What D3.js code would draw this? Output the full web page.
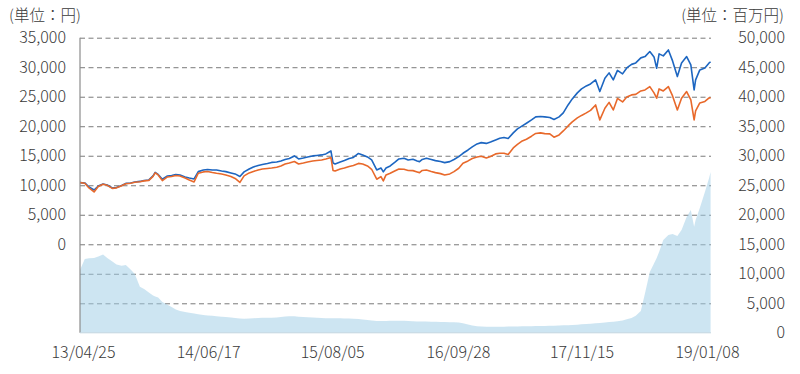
<!DOCTYPE html>
<html><head><meta charset="utf-8">
<script src="https://cdn.jsdelivr.net/npm/d3@7"></script>
<style>body{margin:0;background:#fff} text{font-family:"Noto Sans CJK JP","Noto Sans",sans-serif}</style>
</head><body><svg id="c" width="800" height="374"></svg>
<script>
const dates = [
"2013-04-15","2013-05-01","2013-05-15","2013-06-01","2013-06-15","2013-07-01","2013-07-15","2013-08-01","2013-08-15","2013-09-01",
"2013-09-15","2013-10-01","2013-10-15","2013-11-01","2013-11-15","2013-12-01","2013-12-15","2013-12-22","2014-01-01","2014-01-15",
"2014-02-01","2014-02-15","2014-03-01","2014-03-15","2014-04-01","2014-04-15","2014-05-01","2014-05-15","2014-06-01","2014-06-15",
"2014-07-01","2014-07-15","2014-08-01","2014-08-15","2014-09-01","2014-09-15","2014-10-01","2014-10-15","2014-11-01","2014-11-15",
"2014-12-01","2014-12-15","2015-01-01","2015-01-15","2015-02-01","2015-02-15","2015-03-01","2015-03-15","2015-04-01","2015-04-15",
"2015-05-01","2015-05-15","2015-06-01","2015-06-15","2015-07-01","2015-07-15","2015-08-01","2015-08-08","2015-08-15","2015-09-01",
"2015-09-15","2015-10-01","2015-10-15","2015-11-01","2015-11-15","2015-12-01","2015-12-15","2016-01-01","2016-01-15","2016-01-23",
"2016-02-01","2016-02-15","2016-03-01","2016-03-15","2016-04-01","2016-04-15","2016-05-01","2016-05-15","2016-05-23","2016-06-01",
"2016-06-15","2016-07-01","2016-07-15","2016-08-01","2016-08-15","2016-09-01","2016-09-15","2016-10-01","2016-10-15","2016-11-01",
"2016-11-15","2016-12-01","2016-12-15","2017-01-01","2017-01-15","2017-02-01","2017-02-15","2017-03-01","2017-03-15","2017-04-01",
"2017-04-15","2017-05-01","2017-05-15","2017-06-01","2017-06-15","2017-07-01","2017-07-15","2017-08-01","2017-08-15","2017-09-01",
"2017-09-15","2017-10-01","2017-10-15","2017-11-01","2017-11-15","2017-12-01","2017-12-15","2018-01-01","2018-01-15","2018-02-01",
"2018-02-15","2018-03-01","2018-03-15","2018-04-01","2018-04-15","2018-05-01","2018-05-15","2018-06-01","2018-06-15","2018-07-01",
"2018-07-15","2018-07-24","2018-08-01","2018-08-15","2018-09-01","2018-09-15","2018-10-01","2018-10-15","2018-11-01","2018-11-15",
"2018-11-26","2018-12-01","2018-12-15","2019-01-01","2019-01-15","2019-01-20"];

// 基準価額（分配金再投資） 円 – blue
const navReinvested = [
10440,10390,9710,9200,9880,10220,10050,9540,9630,9970,
10310,10390,10560,10650,10810,10900,11580,12170,11830,11020,
11580,11660,11830,11750,11410,11240,11070,12310,12590,12680,
12590,12590,12420,12310,12090,11920,11490,12260,12760,13100,
13360,13530,13700,13870,13950,14120,14370,14540,14970,14460,
14630,14800,14970,15050,15140,15310,15810,13780,13610,13950,
14200,14540,14710,15390,15140,14800,14290,12590,12930,12260,
12930,13270,13870,14460,14580,14290,14410,14120,14000,14370,
14580,14370,14170,14030,13830,14000,14370,14850,15420,15980,
16490,17000,17220,17090,17340,17680,17970,18100,17930,18870,
19540,20050,20510,21070,21580,21660,21580,21490,21150,21580,
22260,23610,24630,25650,26320,26830,27170,27850,25870,28140,
29040,27850,29460,28870,29880,30480,30730,31580,31800,32650,
31750,29830,32260,31920,32930,31070,28410,30730,31800,30390,
26150,27850,29540,29880,30730,30900];

// 基準価額 円 – orange
const nav = [
10440,10340,9540,8870,9800,10180,9990,9460,9560,9900,
10250,10330,10500,10580,10740,10830,11500,12100,11750,10780,
11410,11490,11660,11580,11240,10900,10560,12040,12260,12340,
12170,12040,11920,11750,11490,11150,10480,11580,12090,12340,
12590,12760,12850,12930,13050,13270,13610,13780,14030,13610,
13780,13950,14120,14200,14290,14460,14710,12510,12420,12760,
12930,13190,13360,13700,13610,13270,12710,11020,11460,10730,
11750,12040,12420,12760,12710,12510,12480,12260,12140,12510,
12590,12340,12140,11970,11750,11920,12310,12880,13730,14120,
14540,14800,14920,14630,14880,15310,15420,15420,15220,16320,
16920,17510,17800,18310,18780,18870,18750,18700,18140,18530,
19200,20050,20730,21410,21830,22260,22680,23610,21070,23050,
24040,22760,24710,24120,24970,25310,25390,25980,26150,26710,
25650,24750,26320,25980,26710,25140,22760,24750,25870,24460,
21070,22590,23950,24200,24800,24800];

// 純資産総額 百万円 – area
const netAssets = [
10640,12510,12630,12680,12930,13270,12680,12090,11580,11370,
11490,10730,9970,7810,7420,6830,6320,6150,5980,5220,
4760,4370,3950,3700,3530,3410,3270,3140,3020,2950,
2880,2800,2730,2660,2590,2500,2420,2400,2420,2460,
2510,2530,2560,2570,2590,2680,2760,2790,2800,2740,
2680,2640,2590,2550,2510,2480,2460,2460,2460,2460,
2440,2420,2380,2340,2260,2170,2080,2000,2000,2000,
2000,2030,2050,2040,2030,1990,1950,1930,1920,1920,
1900,1880,1860,1830,1820,1800,1780,1750,1600,1410,
1250,1100,1050,1030,1030,1030,1030,1030,1050,1070,
1080,1100,1110,1120,1140,1150,1170,1190,1210,1240,
1260,1290,1330,1370,1430,1490,1550,1610,1680,1750,
1810,1880,1960,2080,2280,2510,2900,3700,6700,10310,
11750,12680,13700,15730,16580,16750,16410,17420,19630,20810,
17980,19120,21150,23870,26240,27260];

const leftTicks = [0,5000,10000,15000,20000,25000,30000,35000];
const rightTicks = [0,5000,10000,15000,20000,25000,30000,35000,40000,45000,50000];
const dateTicks = ["2013-04-25","2014-06-17","2015-08-05","2016-09-28","2017-11-15","2019-01-08"];

const parse = d3.timeParse("%Y-%m-%d");
const fmtTick = d3.timeFormat("%y/%m/%d");
const fmtNum = d3.format(",");
const data = dates.map((d,i)=>({date:parse(d), b:navReinvested[i], o:nav[i], a:netAssets[i]}));

const svg = d3.select("#c");
const plotL = 80, plotR = 711, plotT = 37.7, plotB = 332.8;
const x = d3.scaleTime().domain([parse("2013-04-25"), parse("2019-01-08")]).range([83, 707]);
const yR = d3.scaleLinear().domain([0, 50000]).range([plotB, plotT]);
const yL = d3.scaleLinear().domain([-15000, 35000]).range([plotB, plotT]);

// gridlines
const grid = svg.append("g").attr("transform", `translate(${plotL},0)`)
  .call(d3.axisLeft(yR).tickValues(rightTicks.filter(v=>v>0)).tickSize(-(plotR-plotL)).tickFormat(""));
grid.select(".domain").remove();
grid.selectAll(".tick line").attr("stroke","#7a7a7a").attr("stroke-width",1).attr("stroke-dasharray","5,3.5");

// area
svg.append("path").datum(data)
  .attr("d", d3.area().x(d=>x(d.date)).y0(yR(0)).y1(d=>yR(d.a)))
  .attr("fill","#9fcde6").attr("fill-opacity",0.52);

// lines
svg.append("path").datum(data)
  .attr("d", d3.line().x(d=>x(d.date)).y(d=>yL(d.b)))
  .attr("fill","none").attr("stroke","#1d66c1").attr("stroke-width",1.6).attr("stroke-linejoin","round");
svg.append("path").datum(data)
  .attr("d", d3.line().x(d=>x(d.date)).y(d=>yL(d.o)))
  .attr("fill","none").attr("stroke","#e8692b").attr("stroke-width",1.6).attr("stroke-linejoin","round");

// axis lines
svg.append("line").attr("x1",plotL).attr("x2",plotL).attr("y1",plotT).attr("y2",plotB).attr("stroke","#8c8c8c").attr("stroke-width",1.2);
svg.append("line").attr("x1",plotL).attr("x2",plotR).attr("y1",plotB).attr("y2",plotB).attr("stroke","#c3d6e0").attr("stroke-width",1);

const txtStyle = sel => sel.attr("font-size",16).attr("fill","#3a3a3a").attr("font-weight",300)
  .attr("font-family","'Noto Sans CJK JP',sans-serif");

// left axis labels
const la = svg.append("g").attr("transform","translate(66,0)")
  .call(d3.axisLeft(yL).tickValues(leftTicks).tickSize(0).tickPadding(0).tickFormat(fmtNum));
la.select(".domain").remove();
la.selectAll("text").call(txtStyle);

// right axis labels
const ra = svg.append("g").attr("transform","translate(785,0)")
  .call(d3.axisLeft(yR).tickValues(rightTicks).tickSize(0).tickPadding(0).tickFormat(fmtNum));
ra.select(".domain").remove();
ra.selectAll("text").call(txtStyle);

// x axis labels
const xa = svg.append("g").attr("transform",`translate(0,${plotB})`)
  .call(d3.axisBottom(x).tickValues(dateTicks.map(parse)).tickSize(0).tickPadding(14).tickFormat(fmtTick));
xa.select(".domain").remove();
xa.selectAll("text").call(txtStyle);

// unit labels
svg.append("text").attr("x",9).attr("y",21).call(txtStyle).attr("font-size",15.5).text("(単位：円)");
svg.append("text").attr("x",784).attr("y",21).attr("text-anchor","end").call(txtStyle).attr("font-size",15.5).text("(単位：百万円)");
</script></body></html>
